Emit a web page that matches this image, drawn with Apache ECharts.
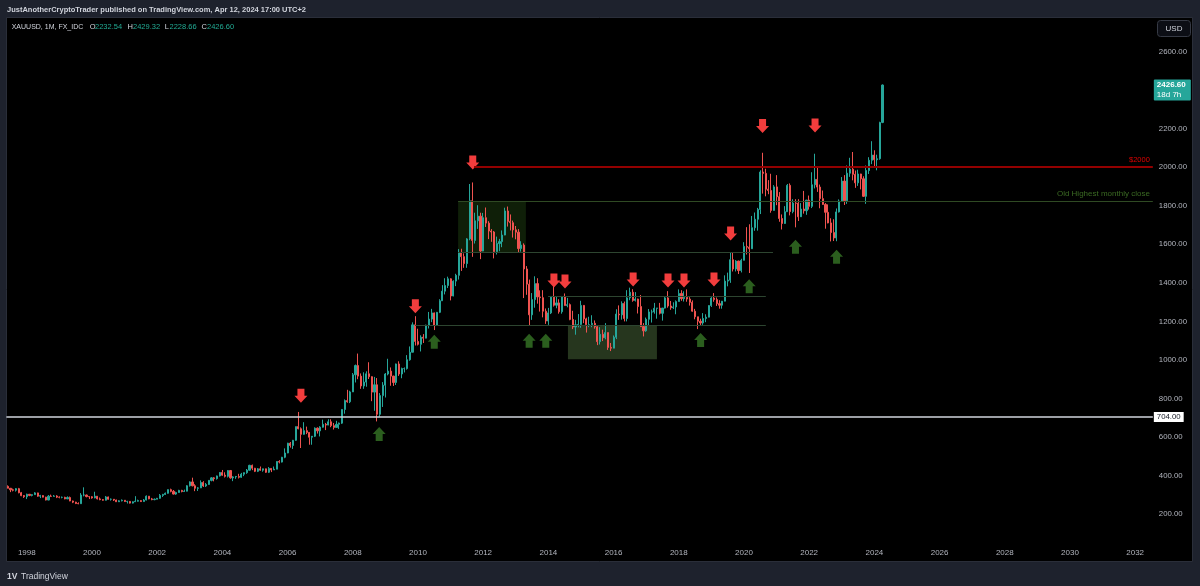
<!DOCTYPE html>
<html>
<head>
<meta charset="utf-8">
<script src="https://cdn.jsdelivr.net/npm/echarts@6/dist/echarts.min.js"></script>
<style>
html,body{margin:0;padding:0;background:#1e222d;}
#chart{width:1200px;height:586px;}
</style>
</head>
<body>
<div id="chart"></div>
<script>
// ---------------- DATA ----------------
const firstMonth = [1997, 6];      // first candle: June 1997
const monthCount = 422;            // category slots (axis runs into 2032)

// monthly candles: [open, close, low, high]
const candles = [
  // 1997 Jun-Dec
  [344,334,334,349],[334,326,314,335],[326,324,318,332],[324,332,317,335],[332,311,308,336],[311,296,293,315],[296,290,284,299],
  // 1998
  [290,303,278,306],[303,297,293,304],[297,301,292,303],[301,310,299,314],[310,293,290,311],[293,296,283,300],
  [296,288,287,298],[288,273,271,290],[273,293,272,299],[293,292,289,301],[292,294,291,299],[294,288,283,298],
  // 1999
  [288,287,282,292],[287,287,282,291],[287,279,277,290],[279,286,278,292],[286,268,267,291],[268,262,257,270],
  [262,255,252,264],[255,254,251,261],[254,299,253,309],[299,299,292,339],[299,291,287,301],[291,290,278,292],
  // 2000
  [290,284,280,293],[284,293,282,316],[293,279,276,294],[279,275,272,286],[275,272,270,278],[272,289,271,294],
  [289,277,275,291],[277,277,270,281],[277,273,268,278],[273,264,263,275],[264,269,263,272],[269,272,266,276],
  // 2001
  [272,265,263,273],[265,266,255,269],[266,257,255,267],[257,264,255,266],[264,267,263,293],[267,270,265,275],
  [270,265,263,272],[265,273,264,278],[273,293,271,297],[293,279,277,294],[279,275,272,284],[275,277,272,281],
  // 2002
  [277,282,277,284],[282,297,280,304],[297,302,289,305],[302,308,299,312],[308,327,306,328],[327,318,313,332],
  [318,304,302,325],[304,312,300,316],[312,323,311,326],[323,317,313,326],[317,319,315,327],[319,347,318,350],
  // 2003
  [347,367,343,370],[367,347,344,389],[347,334,319,355],[334,336,320,340],[336,364,335,375],[364,346,341,371],
  [346,354,341,361],[354,375,352,377],[375,388,370,392],[388,384,370,392],[384,398,379,400],[398,416,395,418],
  // 2004
  [416,402,399,429],[402,396,390,417],[396,426,390,428],[426,388,384,429],[388,393,371,397],[393,395,383,398],
  [395,391,385,409],[391,407,388,414],[407,415,397,416],[415,428,409,434],[428,453,426,456],[453,438,428,457],
  // 2005
  [438,422,418,440],[422,435,418,439],[435,428,425,447],[428,435,420,436],[435,417,414,431],[417,437,413,444],
  [437,429,418,438],[429,433,429,447],[433,473,433,474],[473,470,463,480],[470,495,468,497],[495,517,490,541],
  // 2006
  [517,568,516,570],[568,556,545,574],[556,583,538,585],[583,654,580,654],[654,643,640,730],[643,614,543,650],
  [614,633,612,677],[633,624,615,654],[624,599,560,626],[599,604,560,605],[604,646,600,650],[646,632,618,650],
  // 2007
  [632,651,603,656],[651,666,649,690],[666,662,636,673],[662,679,661,692],[679,659,651,692],[659,650,639,673],
  [650,666,649,684],[666,672,642,675],[672,743,668,744],[743,789,721,795],[789,783,778,845],[783,834,776,840],
  // 2008
  [834,923,834,932],[923,971,883,976],[971,916,900,1033],[916,865,850,930],[865,885,850,936],[885,928,861,941],
  [928,913,901,988],[913,833,786,915],[833,871,736,912],[871,718,681,906],[718,815,705,828],[815,869,756,885],
  // 2009
  [869,927,805,932],[927,942,920,1006],[942,916,866,961],[916,883,865,918],[883,979,870,981],[979,927,917,993],
  [927,955,905,960],[955,955,935,961],[955,1001,950,1025],[1001,1040,996,1070],[1040,1182,1040,1195],[1182,1096,1075,1227],
  // 2010
  [1096,1081,1075,1162],[1081,1118,1044,1128],[1118,1113,1088,1134],[1113,1180,1114,1183],[1180,1212,1163,1249],[1212,1244,1196,1265],
  [1244,1181,1155,1246],[1181,1247,1177,1249],[1247,1307,1243,1315],[1307,1357,1308,1388],[1357,1386,1340,1424],[1386,1421,1373,1432],
  // 2011
  [1421,1332,1309,1424],[1332,1409,1330,1413],[1409,1439,1383,1447],[1439,1556,1417,1575],[1556,1536,1462,1577],[1536,1500,1478,1553],
  [1500,1628,1478,1632],[1628,1826,1621,1913],[1826,1620,1535,1921],[1620,1722,1604,1764],[1722,1746,1680,1803],[1746,1565,1523,1764],
  // 2012
  [1565,1738,1564,1763],[1738,1710,1690,1791],[1710,1669,1627,1720],[1669,1664,1613,1679],[1664,1562,1527,1669],[1562,1604,1547,1640],
  [1604,1614,1564,1628],[1614,1648,1585,1672],[1648,1773,1647,1790],[1773,1719,1692,1796],[1719,1712,1672,1755],[1712,1675,1635,1723],
  // 2013
  [1675,1663,1626,1695],[1663,1578,1555,1679],[1578,1596,1562,1616],[1596,1472,1321,1605],[1472,1393,1338,1487],[1393,1234,1180,1417],
  [1234,1313,1208,1347],[1313,1396,1271,1434],[1396,1327,1292,1424],[1327,1323,1251,1361],[1323,1253,1221,1362],[1253,1202,1187,1267],
  // 2014
  [1202,1244,1182,1270],[1244,1326,1238,1332],[1326,1284,1277,1392],[1284,1296,1268,1331],[1296,1250,1240,1315],[1250,1327,1240,1332],
  [1327,1282,1282,1345],[1282,1287,1273,1322],[1287,1210,1206,1293],[1210,1171,1160,1255],[1171,1182,1131,1208],[1182,1184,1169,1238],
  // 2015
  [1184,1283,1167,1307],[1283,1213,1191,1285],[1213,1183,1142,1219],[1183,1183,1170,1224],[1183,1190,1170,1232],[1190,1172,1162,1205],
  [1172,1095,1077,1181],[1095,1133,1080,1170],[1133,1115,1098,1157],[1115,1142,1107,1191],[1142,1065,1052,1142],[1065,1061,1046,1088],
  // 2016
  [1061,1118,1061,1127],[1118,1238,1108,1263],[1238,1234,1208,1283],[1234,1293,1209,1304],[1293,1215,1200,1303],[1215,1322,1200,1362],
  [1322,1351,1310,1375],[1351,1309,1302,1367],[1309,1316,1303,1352],[1316,1277,1241,1318],[1277,1173,1171,1337],[1173,1151,1122,1191],
  // 2017
  [1151,1211,1146,1220],[1211,1249,1180,1264],[1249,1249,1194,1261],[1249,1268,1240,1296],[1268,1269,1214,1270],[1269,1242,1236,1296],
  [1242,1269,1204,1270],[1269,1322,1267,1331],[1322,1280,1271,1357],[1280,1271,1260,1306],[1271,1275,1264,1299],[1275,1303,1237,1309],
  // 2018
  [1303,1345,1303,1366],[1345,1318,1307,1362],[1318,1325,1303,1356],[1325,1316,1302,1366],[1316,1299,1282,1326],[1299,1253,1250,1309],
  [1253,1224,1211,1265],[1224,1201,1160,1224],[1201,1192,1180,1214],[1192,1215,1182,1243],[1215,1222,1196,1237],[1222,1282,1221,1284],
  // 2019
  [1282,1321,1275,1326],[1321,1313,1302,1347],[1313,1292,1280,1324],[1292,1284,1266,1310],[1284,1305,1266,1306],[1305,1409,1306,1439],
  [1409,1414,1382,1453],[1414,1520,1400,1555],[1520,1472,1459,1557],[1472,1513,1459,1518],[1513,1464,1446,1515],[1464,1517,1454,1525],
  // 2020
  [1517,1589,1517,1611],[1589,1585,1547,1689],[1585,1577,1451,1704],[1577,1686,1576,1747],[1686,1730,1670,1765],[1730,1781,1671,1789],
  [1781,1975,1757,1984],[1975,1968,1863,2075],[1968,1886,1849,1992],[1886,1879,1860,1933],[1879,1776,1764,1966],[1776,1898,1775,1907],
  // 2021
  [1898,1847,1803,1959],[1847,1734,1717,1871],[1734,1708,1677,1755],[1708,1769,1706,1798],[1769,1906,1769,1913],[1906,1770,1750,1916],
  [1770,1814,1761,1834],[1814,1813,1688,1834],[1813,1743,1721,1834],[1743,1783,1746,1814],[1783,1774,1759,1877],[1774,1829,1753,1831],
  // 2022
  [1829,1797,1780,1853],[1797,1909,1788,1974],[1909,1937,1890,2070],[1937,1897,1872,1998],[1897,1837,1787,1910],[1837,1807,1805,1879],
  [1807,1766,1681,1814],[1766,1711,1709,1807],[1711,1661,1615,1735],[1661,1633,1617,1730],[1633,1768,1616,1786],[1768,1824,1765,1833],
  // 2023
  [1824,1928,1823,1949],[1928,1826,1804,1959],[1826,1969,1810,2009],[1969,1990,1950,2049],[1990,1963,1932,2079],[1963,1919,1893,1983],
  [1919,1965,1903,1987],[1965,1940,1885,1966],[1940,1849,1846,1953],[1849,1983,1810,2009],[1983,2036,1965,2052],[2036,2063,2016,2135],
  // 2024 Jan-Apr
  [2063,2039,2002,2088],[2039,2044,1984,2065],[2044,2232,2039,2236],[2232.54,2426.60,2228.66,2429.32]
];

const priceTicks = [200, 2600, 200];  // min, max, step
const lastBar = { open: 2232.54, high: 2429.32, low: 2228.66, close: 2426.60, countdown: '18d 7h' };

// annotations, positions in decimal years / price
const redArrows = [[2006.41,814],[2009.92,1278],[2011.68,2024],[2014.17,1412],[2014.51,1407],[2016.60,1418],
  [2017.67,1412],[2018.16,1412],[2019.08,1418],[2019.59,1656],[2020.57,2214],[2022.18,2216]];
const greenArrows = [[2008.81,616],[2010.50,1095],[2013.41,1100],[2013.92,1100],[2018.67,1103],
  [2020.16,1383],[2021.58,1587],[2022.84,1536]];
const supportLevel = 704;
const roundLevel = { value: 2000, from: 2011.72, label: '$2000' };
const oldHighClose = { value: 1825, from: 2011.23, label: 'Old Highest monthly close' };
const rangeLines = [ [1560, 2011.23, 2020.89], [1333, 2013.99, 2020.67], [1178, 2009.91, 2020.67] ];
const zones = [ [2011.23, 2013.31, 1560, 1825], [2014.60, 2017.33, 1003, 1178] ];

// ---------------- CHART ----------------
const FONT = "'Liberation Sans', Arial, sans-serif";
const months = [];
for (let i = 0; i < monthCount; i++) {
  const m = firstMonth[1] - 1 + i;
  months.push((firstMonth[0] + Math.floor(m / 12)) + '-' + String(m % 12 + 1).padStart(2, '0'));
}
const t0 = firstMonth[0] + (firstMonth[1] - 1) / 12;
const tMin = t0 - 0.5 / 12, tMax = t0 + (monthCount - 0.5) / 12;

const downArrow = 'path://M3,0 L10,0 L10,7 L13,7 L6.5,14 L0,7 L3,7 Z';
const upArrow = 'path://M6.5,0 L13,7 L10,7 L10,14 L3,14 L3,7 L0,7 Z';

const chart = echarts.init(document.getElementById('chart'), null, { renderer: 'canvas' });

const thinLine = { color: '#2d4530', width: 1, type: 'solid' };
const markLineData = [
  { yAxis: supportLevel, lineStyle: { color: '#d1d4dc', width: 1.5, type: 'solid' },
    label: { show: true, position: 'end', distance: 1, formatter: supportLevel.toFixed(2), color: '#131722',
      backgroundColor: '#ffffff', padding: [1, 3, 1, 3], fontSize: 7.8, fontFamily: FONT } },
  [ { coord: [roundLevel.from, roundLevel.value], lineStyle: { color: '#930000', width: 2, type: 'solid' },
      label: { show: true, position: 'insideEndTop', formatter: roundLevel.label, color: '#e00000', fontSize: 7.5, fontFamily: FONT, distance: 3 } },
    { coord: [tMax, roundLevel.value] } ],
  [ { coord: [oldHighClose.from, oldHighClose.value], lineStyle: { color: '#2f4a23', width: 1, type: 'solid' },
      label: { show: true, position: 'insideEndTop', formatter: oldHighClose.label, color: '#3b6a23', fontSize: 8, fontFamily: FONT, distance: 3 } },
    { coord: [tMax, oldHighClose.value] } ]
];
rangeLines.forEach(r => markLineData.push([
  { coord: [r[1], r[0]], lineStyle: thinLine, label: { show: false } }, { coord: [r[2], r[0]] }
]));

const hdr = (x, text, fill, size) => ({ type: 'text', x: x, y: 27, silent: true,
  style: { text: text, fill: fill, font: (size || 7.5) + 'px ' + FONT, verticalAlign: 'middle' } });

const option = {
  backgroundColor: '#1e222d',
  animation: false,
  textStyle: { fontFamily: FONT },
  graphic: [
    { type: 'rect', z: -10, silent: true, shape: { x: 6.5, y: 17.5, width: 1186, height: 544 },
      style: { fill: '#000000', stroke: '#2a2e39', lineWidth: 1 } },
    { type: 'text', x: 7, y: 10, silent: true,
      style: { text: 'JustAnotherCryptoTrader published on TradingView.com, Apr 12, 2024 17:00 UTC+2',
        fill: '#d1d4dc', font: 'bold 7.5px ' + FONT, verticalAlign: 'middle' } },
    hdr(11.7, 'XAUUSD, 1M, FX_IDC', '#d1d4dc', 7),
    hdr(89.8, 'O', '#d1d4dc'), hdr(95, lastBar.open.toFixed(2), '#22ab94'),
    hdr(127.4, 'H', '#d1d4dc'), hdr(133, lastBar.high.toFixed(2), '#22ab94'),
    hdr(164.7, 'L', '#d1d4dc'), hdr(169.5, lastBar.low.toFixed(2), '#22ab94'),
    hdr(201.4, 'C', '#d1d4dc'), hdr(207, lastBar.close.toFixed(2), '#22ab94'),
    { type: 'rect', silent: true, shape: { x: 1157.5, y: 20.5, width: 33, height: 16, r: 3 },
      style: { fill: '#0c0e15', stroke: '#363a45', lineWidth: 1 } },
    { type: 'text', x: 1174, y: 29, silent: true, style: { text: 'USD', fill: '#d1d4dc', font: '8px ' + FONT, align: 'center', verticalAlign: 'middle' } },
    { type: 'text', x: 7, y: 577, silent: true, style: { text: '1V', fill: '#d1d4dc', font: 'bold 8.5px ' + FONT, verticalAlign: 'middle' } },
    { type: 'text', x: 21, y: 577, silent: true, style: { text: 'TradingView', fill: '#d1d4dc', font: '8.5px ' + FONT, verticalAlign: 'middle' } }
  ],
  grid: { left: 6.4, right: 1200 - (6.4 + monthCount * 32.6 / 12), top: 51.6, bottom: 71.9, containLabel: false },
  xAxis: [
    { type: 'category', data: months, boundaryGap: true,
      axisLine: { show: false }, axisTick: { show: false }, splitLine: { show: false },
      axisLabel: { color: '#b2b5be', fontSize: 8, fontFamily: FONT, margin: 35,
        interval: (idx, val) => val.slice(5) === '01' && (+val.slice(0, 4)) % 2 === 0,
        formatter: val => val.slice(0, 4) } },
    { type: 'value', min: tMin, max: tMax, show: false, gridIndex: 0 }
  ],
  yAxis: {
    type: 'value', position: 'right', min: priceTicks[0], max: priceTicks[1], interval: priceTicks[2],
    axisLine: { show: false }, axisTick: { show: false }, splitLine: { show: false },
    axisLabel: { color: '#b2b5be', fontSize: 7.8, fontFamily: FONT, margin: 6, align: 'left',
      formatter: v => v.toFixed(2) }
  },
  series: [
    { type: 'candlestick', name: 'XAUUSD', xAxisIndex: 0, yAxisIndex: 0, data: candles, barWidth: 1.6,
      itemStyle: { color: '#26a69a', color0: '#ef5350', borderColor: '#26a69a', borderColor0: '#ef5350', borderWidth: 1 } },
    { type: 'scatter', name: 'tops', xAxisIndex: 1, yAxisIndex: 0, data: redArrows, symbol: downArrow, symbolSize: [13, 14],
      itemStyle: { color: '#f23d3d', opacity: 1 }, z: 4,
      markLine: { silent: true, symbol: ['none', 'none'], precision: 2, z: 5, data: markLineData },
      markArea: { silent: true, z: 1,
        data: zones.map((zz, k) => [
          { coord: [zz[0], zz[3]], itemStyle: { color: k === 0 ? 'rgba(45,95,25,0.33)' : 'rgba(80,112,62,0.48)' } },
          { coord: [zz[1], zz[2]] } ]) } },
    { type: 'scatter', name: 'bottoms', xAxisIndex: 1, yAxisIndex: 0, data: greenArrows, symbol: upArrow, symbolSize: [13, 14],
      itemStyle: { color: '#2b5e1e', opacity: 1 }, z: 4 }
  ]
};
chart.setOption(option);

// last price tag on the price axis
const py = chart.convertToPixel({ yAxisIndex: 0 }, lastBar.close);
const gridRight = 6.4 + monthCount * 32.6 / 12;
chart.setOption({ graphic: option.graphic.concat([
  { type: 'rect', silent: true, z: 10, shape: { x: gridRight + 1, y: py - 5.5, width: 37, height: 21, r: 1 }, style: { fill: '#26a69a' } },
  { type: 'text', silent: true, z: 11, x: gridRight + 4, y: py, style: { text: lastBar.close.toFixed(2), fill: '#ffffff', font: 'bold 8px ' + FONT, verticalAlign: 'middle' } },
  { type: 'text', silent: true, z: 11, x: gridRight + 4, y: py + 10, style: { text: lastBar.countdown, fill: '#ffffff', font: '8px ' + FONT, verticalAlign: 'middle' } }
]) });
</script>
</body>
</html>
